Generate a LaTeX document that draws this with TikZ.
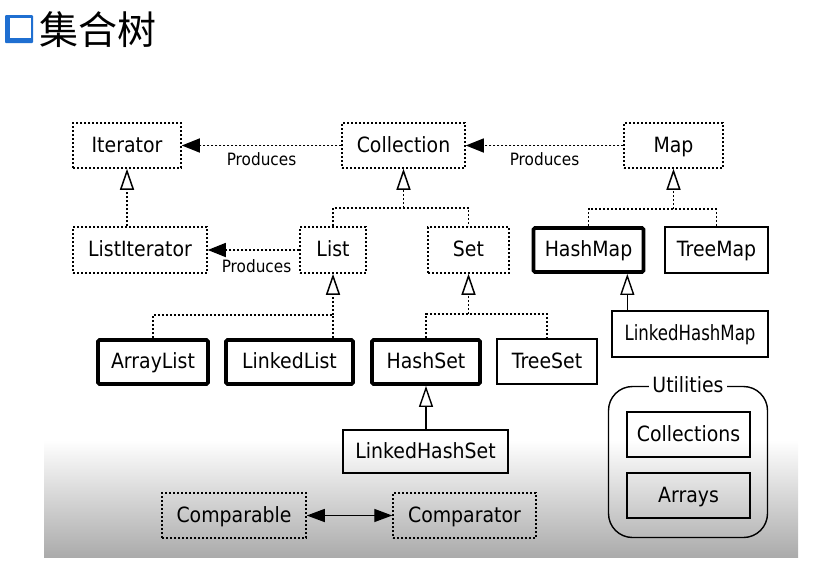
\documentclass[tikz,border=0pt]{standalone}
\usepackage{fontspec}
\setmainfont{DejaVu Sans}[FakeStretch=0.9]
\newfontfamily\cjkfont{Noto Sans CJK SC}
\usetikzlibrary{arrows.meta,positioning}
\definecolor{titleblue}{HTML}{1F6FD1}
\newcommand{\boxfont}{\fontsize{21}{24}\selectfont}
\newcommand{\prodfont}{\fontsize{17}{20}\selectfont}

\tikzset{
  box/.style={inner sep=0pt, font=\boxfont, text height=16pt, text depth=2.7pt},
  dotbox/.style={box, draw, line width=1.5pt, dash pattern=on 1.8pt off 2.2pt},
  thinbox/.style={box, draw, line width=1.4pt},
  thickbox/.style={box, draw, line width=3.8pt, rounded corners=1.5pt},
  dotline/.style={line width=1.5pt, dash pattern=on 1.8pt off 2.2pt},
  produces/.style={dotline, -{Triangle[length=18pt,width=14pt]}},
  inherit/.style={dotline, -{Triangle[open,length=21pt,width=14pt,fill=white]}},
  solidinherit/.style={line width=1.4pt, -{Triangle[open,length=21pt,width=14pt,fill=white]}},
  prodlabel/.style={font=\prodfont, inner sep=1pt}
}

\begin{document}
\begin{tikzpicture}[x=1pt,y=-1pt]
        \useasboundingbox (0,0) rectangle (817,573);

        % title
        \fill[titleblue, rounded corners=1pt] (5,15) rectangle (33,43);
        \fill[white] (9.5,17.5) rectangle (31,37.5);
        \node[font=\cjkfont\fontsize{39}{42}\selectfont, inner sep=0pt] (title) at (98,30) {集合树};

        % grey background
        \shade[top color=white, bottom color=black!33] (44,440) rectangle (798,557);

        % interfaces
        \node[dotbox, minimum width=108pt, minimum height=45pt] (iter) at (127,145.5) {Iterator};
        \node[dotbox, minimum width=123pt, minimum height=45pt] (coll) at (403.5,145.5) {Collection};
        \node[dotbox, minimum width=99pt, minimum height=45pt] (map) at (673.5,145.5) {Map};
        \node[dotbox, minimum width=134pt, minimum height=46pt] (listiter) at (140,250) {ListIterator};
        \node[dotbox, minimum width=66pt, minimum height=46pt] (list) at (333,250) {List};
        \node[dotbox, minimum width=81pt, minimum height=46pt] (set) at (468.5,250) {Set};

        % classes
        \node[thickbox, minimum width=110pt, minimum height=44pt] (hashmap) at (588.5,250) {HashMap};
        \node[thinbox, minimum width=103pt, minimum height=46pt] (treemap) at (716.5,250) {TreeMap};
        \node[thinbox, minimum width=156pt, minimum height=46pt,
              font=\boxfont\addfontfeature{FakeStretch=0.79}] (linkedhashmap) at (690,334) {LinkedHashMap};
        \node[thickbox, minimum width=110pt, minimum height=44pt] (arraylist) at (153,362) {ArrayList};
        \node[thickbox, minimum width=127pt, minimum height=44pt] (linkedlist) at (289.5,362) {LinkedList};
        \node[thickbox, minimum width=108pt, minimum height=44pt] (hashset) at (426,362) {HashSet};
        \node[thinbox, minimum width=100pt, minimum height=45pt] (treeset) at (547,361.5) {TreeSet};
        \node[thinbox, minimum width=165pt, minimum height=43pt] (linkedhashset) at (425.5,451.5) {LinkedHashSet};

        % comparing
        \node[dotbox, minimum width=144pt, minimum height=45pt] (comparable) at (234,515.5) {Comparable};
        \node[dotbox, minimum width=143pt, minimum height=45pt] (comparator) at (464.5,515.5) {Comparator};

        % utilities
        \node[draw, line width=1.4pt, rounded corners=24pt, minimum width=159pt, minimum height=151pt] (util) at (688,462) {};
        \node[box, fill=white, inner sep=3pt] (utillabel) at (util.north) {Utilities};
        \node[thinbox, minimum width=123pt, minimum height=45pt] (collections) at (688.5,434.5) {Collections};
        \node[thinbox, minimum width=123pt, minimum height=45pt] (arrays) at (688.5,495.5) {Arrays};

        % produces
        \draw[produces] (coll.west) -- (iter.east) node[prodlabel, midway, below=5pt] {Produces};
        \draw[produces] (map.west) -- (coll.east) node[prodlabel, midway, below=5pt] {Produces};
        \draw[produces] (list.west) -- (listiter.east) node[prodlabel, midway, below=8pt, xshift=3pt] {Produces};

        % inheritance
        \coordinate (cj) at (403.5,208);
        \coordinate (mj) at (673.5,209);
        \coordinate (lj) at (333,315);
        \coordinate (sj) at (468.5,314);
        \draw[inherit] (listiter.north -| iter.south) -- (iter.south);
        \draw[dotline] (list.north) |- (cj) -| (set.north);
        \draw[inherit] (cj) -- (coll.south);
        \draw[dotline] (hashmap.north) |- (mj) -| (treemap.north);
        \draw[inherit] (mj) -- (map.south);
        \draw[dotline] (arraylist.north) |- (lj) -- (linkedlist.north -| lj);
        \draw[inherit] (lj) -- (list.south);
        \draw[dotline] (hashset.north) |- (sj) -| (treeset.north);
        \draw[inherit] (sj) -- (set.south);
        \draw[solidinherit] ([xshift=16pt]linkedhashmap.north west) coordinate (lhm) -- (lhm |- hashmap.south);
        \draw[solidinherit] (linkedhashset.north -| hashset.south) -- (hashset.south);

        \draw[line width=1.4pt, {Triangle[length=18pt,width=13pt]}-{Triangle[length=18pt,width=13pt]}] (comparable.east) -- (comparator.west);
\end{tikzpicture}
\end{document}
